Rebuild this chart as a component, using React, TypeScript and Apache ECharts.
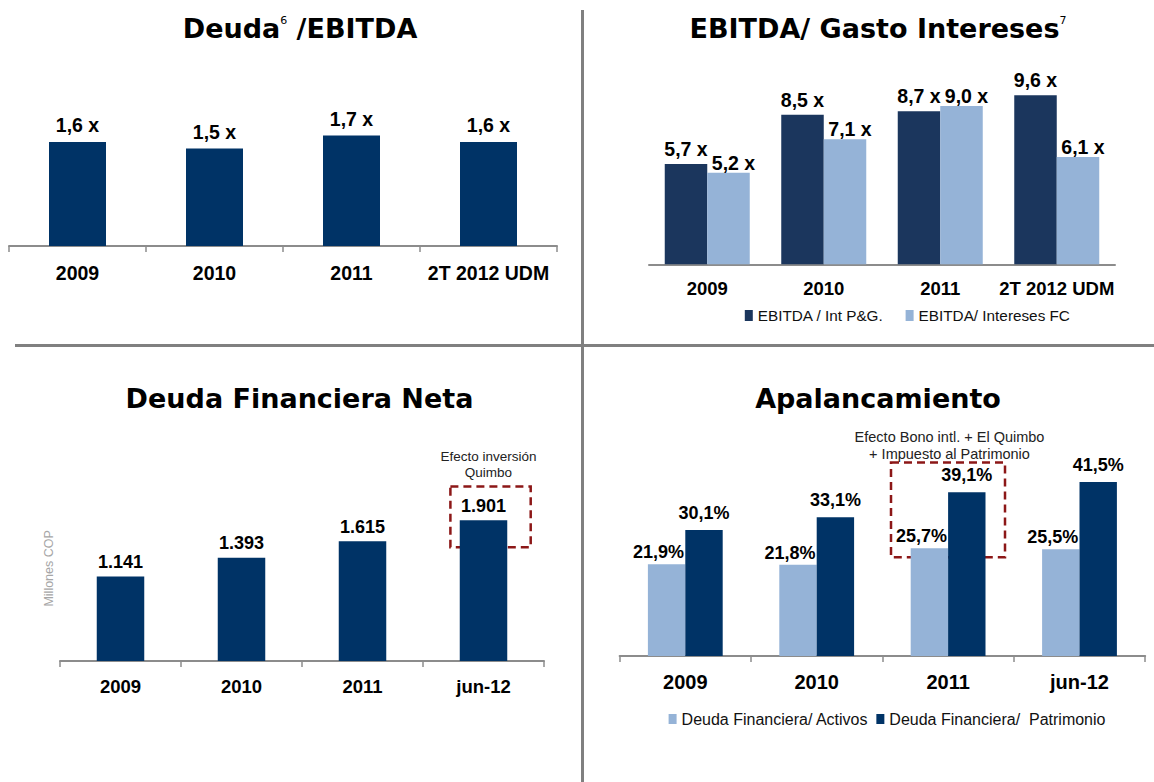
import React, { useEffect, useRef } from 'react';
import * as echarts from 'echarts';

// ---- data ----
const ratioCategories = ['2009', '2010', '2011', '2T 2012 UDM'];
const deudaEbitda = [1.6, 1.5, 1.7, 1.6];

const coverageCategories = ['2009', '2010', '2011', '2T 2012 UDM'];
const ebitdaIntPG = [5.7, 8.5, 8.7, 9.6];
const ebitdaIntFC = [5.2, 7.1, 9.0, 6.1];

const debtCategories = ['2009', '2010', '2011', 'jun-12'];
const netDebt = [1141, 1393, 1615, 1901];

const leverageCategories = ['2009', '2010', '2011', 'jun-12'];
const debtToAssets = [21.9, 21.8, 25.7, 25.5];
const debtToEquity = [30.1, 33.1, 39.1, 41.5];

const seriesNames = {
  ratio: 'Deuda/EBITDA',
  pg: 'EBITDA / Int P&G.',
  fc: 'EBITDA/ Intereses FC',
  debt: 'Deuda Financiera Neta',
  assets: 'Deuda Financiera/ Activos',
  equity: 'Deuda Financiera/  Patrimonio',
};

// ---- styles ----
const NAVY = '#003366';
const NAVY2 = '#1b365d';
const LIGHT = '#95b3d7';
const AXIS = '#8c8c8c';
const RED = '#8c1717';
const FONT = '"Liberation Sans", Arial, sans-serif';
const TITLE_FONT = '"DejaVu Sans", Verdana, sans-serif';

const fmtX = (v: number) => v.toFixed(1).replace('.', ',') + ' x';
const fmtPct = (v: number) => v.toFixed(1).replace('.', ',') + '%';
const fmtThousands = (v: number) => String(v).replace(/\B(?=(\d{3})+(?!\d))/g, '.');

const valueLabel = (fontSize: number, distance: number, formatter: (v: number) => string, offset?: number[]) => ({
  show: true,
  position: 'top',
  distance,
  offset: offset || [0, 0],
  color: '#000',
  fontWeight: 'bold',
  fontSize,
  fontFamily: FONT,
  formatter: (p: any) => formatter(p.value),
});

const catAxis = (gridIndex: number, data: string[], ticks: boolean, fontSize: number, margin: number) => ({
  type: 'category',
  gridIndex,
  data,
  boundaryGap: true,
  axisLine: { show: true, lineStyle: { color: AXIS, width: 2 } },
  axisTick: { show: ticks, length: 6, lineStyle: { color: AXIS, width: 1.5 } },
  axisLabel: { color: '#000', fontWeight: 'bold', fontSize, fontFamily: FONT, margin, interval: 0 },
  splitLine: { show: false },
});

const hiddenValueAxis = (gridIndex: number, max: number) => ({
  type: 'value',
  gridIndex,
  min: 0,
  max,
  show: false,
  splitLine: { show: false },
});

const titleText = (x: number, y: number, text: string) => ({
  type: 'text',
  x,
  y,
  silent: true,
  style: {
    text,
    align: 'center',
    verticalAlign: 'middle',
    fill: '#000',
    fontSize: 27,
    fontWeight: 'bold',
    fontFamily: TITLE_FONT,
    rich: {
      sup: { fontSize: 11, fontWeight: 'normal', fontFamily: TITLE_FONT, verticalAlign: 'top', fill: '#000' },
    },
  },
});

export default function App() {
  const ref = useRef<HTMLDivElement>(null);

  useEffect(() => {
    if (!ref.current) return;
    const chart = echarts.init(ref.current, undefined, { renderer: 'svg' });

    const option: any = {
      animation: false,
      backgroundColor: '#fff',
      grid: [
        { left: 9, top: 83.5, width: 548, height: 162.5, outerBoundsMode: 'none' },
        { left: 649, top: 88.3, width: 466, height: 176, outerBoundsMode: 'none' },
        { left: 60, top: 475.75, width: 484, height: 185.25, outerBoundsMode: 'none' },
        { left: 619.6, top: 446.5, width: 525.6, height: 209.5, outerBoundsMode: 'none' },
      ],
      xAxis: [
        catAxis(0, ratioCategories, true, 19.5, 17),
        catAxis(1, coverageCategories, false, 18.5, 15),
        catAxis(2, debtCategories, true, 18.5, 16),
        catAxis(3, leverageCategories, true, 20, 15.5),
      ],
      yAxis: [
        hiddenValueAxis(0, 2.5),
        hiddenValueAxis(1, 10),
        {
          type: 'value',
          gridIndex: 2,
          min: 0,
          max: 2500,
          show: true,
          axisLine: { show: false },
          axisTick: { show: false },
          axisLabel: { show: false },
          splitLine: { show: false },
          name: 'Millones COP',
          nameLocation: 'middle',
          nameRotate: 90,
          nameGap: 5,
          nameTextStyle: { color: '#a6a6a6', fontSize: 12.5, fontFamily: FONT },
        },
        hiddenValueAxis(3, 50),
      ],
      legend: [
        {
          data: [seriesNames.pg, seriesNames.fc],
          left: 744.8,
          top: 308,
          padding: 0,
          icon: 'rect',
          itemWidth: 8,
          itemHeight: 11,
          itemGap: 22,
          selectedMode: false,
          textStyle: { color: '#111', fontSize: 15.3, fontFamily: FONT },
        },
        {
          data: [seriesNames.assets, seriesNames.equity],
          left: 668.6,
          top: 711,
          padding: 0,
          icon: 'rect',
          itemWidth: 8,
          itemHeight: 10,
          itemGap: 8,
          selectedMode: false,
          textStyle: { color: '#111', fontSize: 16, fontFamily: FONT },
        },
      ],
      series: [
        {
          type: 'bar',
          name: seriesNames.ratio,
          xAxisIndex: 0,
          yAxisIndex: 0,
          data: deudaEbitda,
          barWidth: 57,
          itemStyle: { color: NAVY },
          label: valueLabel(19.5, 7, fmtX),
        },
        {
          type: 'bar',
          name: seriesNames.pg,
          xAxisIndex: 1,
          yAxisIndex: 1,
          data: ebitdaIntPG,
          barWidth: 42.5,
          barGap: 0,
          itemStyle: { color: NAVY2 },
          label: valueLabel(19.5, 5, fmtX),
        },
        {
          type: 'bar',
          name: seriesNames.fc,
          xAxisIndex: 1,
          yAxisIndex: 1,
          data: ebitdaIntFC,
          barWidth: 42.5,
          barGap: 0,
          itemStyle: { color: LIGHT },
          label: valueLabel(19.5, 0, fmtX, [5, 0]),
        },
        {
          type: 'bar',
          name: seriesNames.debt,
          xAxisIndex: 2,
          yAxisIndex: 2,
          data: netDebt,
          barWidth: 47.5,
          itemStyle: { color: NAVY },
          label: valueLabel(18, 5.5, fmtThousands),
        },
        {
          type: 'bar',
          name: seriesNames.assets,
          xAxisIndex: 3,
          yAxisIndex: 3,
          data: debtToAssets,
          barWidth: 37.4,
          barGap: 0,
          itemStyle: { color: LIGHT },
          label: valueLabel(18, 3, fmtPct, [-8, 0]),
        },
        {
          type: 'bar',
          name: seriesNames.equity,
          xAxisIndex: 3,
          yAxisIndex: 3,
          data: debtToEquity,
          barWidth: 37.4,
          barGap: 0,
          itemStyle: { color: NAVY },
          label: valueLabel(18, 8, fmtPct),
        },
      ],
      graphic: [
        // panel dividers
        { type: 'line', silent: true, shape: { x1: 582.5, y1: 10, x2: 582.5, y2: 782 }, style: { stroke: '#808080', lineWidth: 3 } },
        { type: 'line', silent: true, shape: { x1: 15, y1: 345.5, x2: 1154, y2: 345.5 }, style: { stroke: '#808080', lineWidth: 3 } },
        // titles
        titleText(300, 28, 'Deuda{sup|6} /EBITDA'),
        titleText(878, 28, 'EBITDA/ Gasto Intereses{sup|7}'),
        titleText(299.5, 398, 'Deuda Financiera Neta'),
        titleText(878, 398, 'Apalancamiento'),
        // annotations
        {
          type: 'text',
          x: 488.5,
          y: 464.5,
          silent: true,
          style: {
            text: 'Efecto inversión\nQuimbo',
            align: 'center',
            verticalAlign: 'middle',
            lineHeight: 15.6,
            fill: '#222',
            fontSize: 13.5,
            fontFamily: FONT,
          },
        },
        {
          type: 'rect',
          silent: true,
          shape: { x: 450.4, y: 486.5, width: 80.3, height: 60.8 },
          style: { fill: 'none', stroke: RED, lineWidth: 2.5, lineDash: [8, 5] },
        },
        {
          type: 'text',
          x: 949.5,
          y: 445.5,
          silent: true,
          style: {
            text: 'Efecto Bono intl. + El Quimbo\n+ Impuesto al Patrimonio',
            align: 'center',
            verticalAlign: 'middle',
            lineHeight: 17.6,
            fill: '#222',
            fontSize: 14.5,
            fontFamily: FONT,
          },
        },
        {
          type: 'rect',
          silent: true,
          shape: { x: 891, y: 462.5, width: 114, height: 94.8 },
          style: { fill: 'none', stroke: RED, lineWidth: 2.5, lineDash: [8, 5] },
        },
      ],
    };

    chart.setOption(option);
    return () => chart.dispose();
  }, []);

  return (
    <div
      ref={ref}
      style={{ position: 'absolute', left: 0, top: 0, width: 1154, height: 782, background: '#fff' }}
    />
  );
}
